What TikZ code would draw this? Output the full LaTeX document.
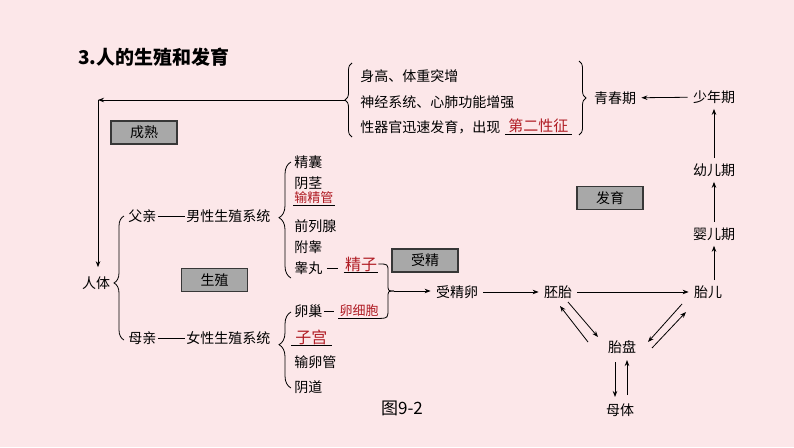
\documentclass[tikz,border=0pt]{standalone}
\usepackage{fontspec}
\setmainfont{Noto Sans CJK SC}
\usetikzlibrary{arrows.meta,decorations.pathreplacing,calc}
\definecolor{bgpink}{RGB}{252,231,233}
\definecolor{ansred}{RGB}{176,28,36}
\definecolor{boxgray}{RGB}{168,168,168}
\definecolor{boxedge}{RGB}{55,55,55}
\begin{document}
\begin{tikzpicture}[x=1pt,y=-1pt,line width=0.8pt,
  every node/.style={font=\fontsize{14}{16}\selectfont, inner sep=1pt},
  gbox/.style={draw=boxedge, fill=boxgray, line width=1.2pt, minimum width=66pt, minimum height=23pt, inner sep=0pt},
  ans/.style={text=ansred, append after command={(\tikzlastnode.south west) edge[draw=black,line width=0.8pt] (\tikzlastnode.south east)}},
  arr/.style={-{Stealth[length=6pt,width=4.5pt]}},
  gap/.style={shorten <=4pt, shorten >=4pt},
  brc/.style={decorate, decoration={brace, amplitude=#1}},
  brc/.default=8pt
]
\fill[bgpink] (0,0) rectangle (794,447);
\useasboundingbox (0,0) rectangle (794,447);

\node[anchor=west, font=\fontsize{19}{22}\selectfont\bfseries] (title) at (77,57) {3.人的生殖和发育};

% puberty block
\node[anchor=west] (t1) at (359,76) {身高、体重突增};
\node[anchor=west] (t2) at (359,102) {神经系统、心肺功能增强};
\node[anchor=west] (t3) at (359,127) {性器官迅速发育，出现};
\node[ans, anchor=west, font=\fontsize{15}{17}\selectfont, inner xsep=3pt] (t4) at (505,126) {第二性征};
\draw[brc=7pt] (352,137) -- (352,63);
\draw[brc=7pt] (579,61) -- (579,135);
\coordinate (btip) at (345,100);

\node (qcq) at (615,98) {青春期};
\node (snq) at (714,97) {少年期};
\node (yeq) at (714,170) {幼儿期};
\node (yiq) at (714,234) {婴儿期};
\node (te) at (708,292) {胎儿};
\draw[arr,gap] (snq) -- (qcq);
\draw[arr,gap] (yeq) -- (snq);
\draw[arr,gap] (yiq) -- (yeq);
\draw[arr,gap] (te.north -| yiq) -- (yiq.south);

% development chain
\node (sjl) at (457,292) {受精卵};
\node (pt) at (558,292) {胚胎};
\node (tp) at (622,347) {胎盘};
\node (mt) at (620,410) {母体};
\draw[arr,gap] (sjl) -- (pt);
\draw[arr,gap] (pt) -- (te);
\draw[arr] ([shift={(-34,-5)}]tp.center) -- ([shift={(2,14)}]pt.center);
\draw[arr] ([shift={(10,10)}]pt.center) -- ([shift={(-24,-10)}]tp.center);
\draw[arr] ([shift={(-26,12)}]te.center) -- ([shift={(26,-5)}]tp.center);
\draw[arr] ([shift={(30,1)}]tp.center) -- ([shift={(-22,20)}]te.center);
\draw[arr] ([shift={(-7,15)}]tp.center) -- ([shift={(-5,-13)}]mt.center);
\draw[arr] ([shift={(7,-15)}]mt.center) -- ([shift={(5,13)}]tp.center);

% boxes
\node[gbox] (cs) at (144,132.5) {成熟};
\node[gbox] (sz) at (214.5,280) {生殖};
\node[gbox] (sj) at (425,260.5) {受精};
\node[gbox] (fy) at (610,198) {发育};

% left part
\node (rt) at (96,283) {人体};
\coordinate (corner) at (98,100);
\draw[arr] (btip) -- (corner);
\draw[arr, shorten >=8pt] (corner) -- (corner |- rt.north);

\node[anchor=west] (fq) at (127,216) {父亲};
\node[anchor=west] (nx) at (185,216) {男性生殖系统};
\draw (fq) -- (nx);
\node[anchor=west] (mq) at (127,338) {母亲};
\node[anchor=west] (nvx) at (185,338) {女性生殖系统};
\draw (mq) -- (nvx);
\draw[decorate, decoration={brace,amplitude=10pt,aspect=0.46}] (124,340) -- (124,216);

% male
\draw[decorate, decoration={brace,amplitude=12pt,aspect=0.52}] (291,278) -- (291,162);
\node[anchor=west] (m1) at (293,162) {精囊};
\node[anchor=west] (m2) at (293,183) {阴茎};
\node[ans, anchor=west, font=\fontsize{13}{15}\selectfont] (m3) at (293,198) {输精管};
\node[anchor=west] (m4) at (293,226) {前列腺};
\node[anchor=west] (m5) at (293,247) {附睾};
\node[anchor=west] (gw) at (293,268) {睾丸};
\node[ans, font=\fontsize{16}{18}\selectfont] (jz) at (361,264) {精子};
\draw[shorten <=3pt, shorten >=6pt] (gw.east) -- (gw.east -| jz.west);

% female
\draw[decorate, decoration={brace,amplitude=12pt,aspect=0.57}] (291,388) -- (291,312);
\node[anchor=west] (lc) at (293,311) {卵巢};
\node[ans, font=\fontsize{13}{15}\selectfont] (lxb) at (359,311) {卵细胞};
\draw[shorten >=4pt] (lc.east) -- (lc.east -| lxb.west);
\node[ans, anchor=west, font=\fontsize{16}{18}\selectfont, inner xsep=4pt] (zg) at (291,337) {子宫};
\node[anchor=west] (f3) at (293,362) {输卵管};
\node[anchor=west] (f4) at (293,387) {阴道};

% fertilisation connector
\coordinate (jn) at (394,291);
\draw (jz.east) .. controls (388,264) .. (388,272) -- (388,284) .. controls (388,291) .. (jn);
\draw (lxb.south east) .. controls (388,318) .. (388,308) -- (388,298) .. controls (388,291) .. (jn);
\draw[arr, shorten >=4pt] (jn) -- (jn -| sjl.west);

\node[font=\fontsize{17}{19}\selectfont] (fig) at (402,408) {图9-2};
\end{tikzpicture}
\end{document}
